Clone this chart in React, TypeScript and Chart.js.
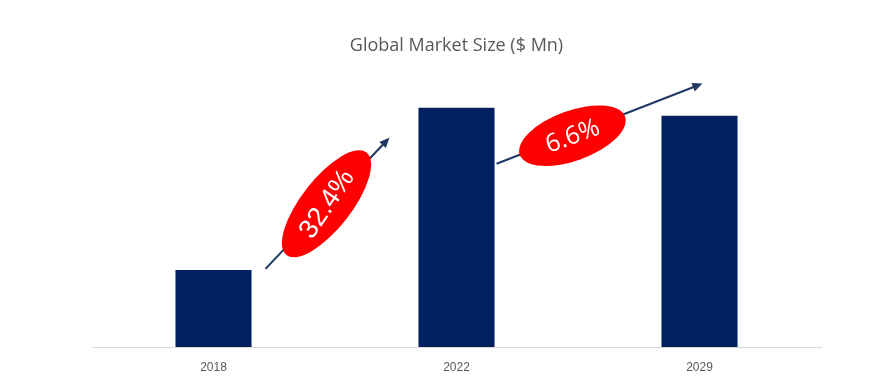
import React, { useEffect, useRef } from "react";
import { Chart, registerables } from "chart.js";

Chart.register(...registerables);

const categories = ["2018", "2022", "2029"];
const marketSize = [77, 239, 231];

// growth annotations (category index, value)
const growthLabels = ["32.4%", "6.6%"];
const arrowStartX = [0.214, 1.165];
const arrowStartY = [78, 183];
const arrowEndX = [0.724, 2.012];
const arrowEndY = [209, 263];
const badgeX = [0.465, 1.477];
const badgeY = [143, 211];

const BAR_COLOR = "#002060";
const ARROW_COLOR = "#1f3864";

const badgeStyles = [
  { rx: 65, ry: 25, rot: -52, textRot: -56, font: "27px 'Liberation Sans Narrow', 'Liberation Sans', sans-serif" },
  { rx: 56, ry: 25, rot: -20, textRot: -20, font: "25px 'Open Sans', sans-serif" },
];

const growthPlugin = {
  id: "growth",
  afterDatasetsDraw(chart: any) {
    const { ctx, scales } = chart;
    const x = scales.x;
    const y = scales.y;
    ctx.save();
    for (let i = 0; i < growthLabels.length; i++) {
      const x1 = x.getPixelForValue(arrowStartX[i]);
      const y1 = y.getPixelForValue(arrowStartY[i]);
      const x2 = x.getPixelForValue(arrowEndX[i]);
      const y2 = y.getPixelForValue(arrowEndY[i]);
      const ang = Math.atan2(y2 - y1, x2 - x1);
      const head = 10;
      ctx.strokeStyle = ARROW_COLOR;
      ctx.fillStyle = ARROW_COLOR;
      ctx.lineWidth = 2;
      ctx.beginPath();
      ctx.moveTo(x1, y1);
      ctx.lineTo(x2 - Math.cos(ang) * head * 0.8, y2 - Math.sin(ang) * head * 0.8);
      ctx.stroke();
      ctx.beginPath();
      ctx.moveTo(x2, y2);
      ctx.lineTo(x2 - head * Math.cos(ang) + 4.5 * Math.sin(ang), y2 - head * Math.sin(ang) - 4.5 * Math.cos(ang));
      ctx.lineTo(x2 - head * Math.cos(ang) - 4.5 * Math.sin(ang), y2 - head * Math.sin(ang) + 4.5 * Math.cos(ang));
      ctx.closePath();
      ctx.fill();

      const st = badgeStyles[i];
      const cx = x.getPixelForValue(badgeX[i]);
      const cy = y.getPixelForValue(badgeY[i]);
      ctx.fillStyle = "#ff0000";
      ctx.beginPath();
      ctx.ellipse(cx, cy, st.rx, st.ry, (st.rot * Math.PI) / 180, 0, Math.PI * 2);
      ctx.fill();
      ctx.save();
      ctx.translate(cx, cy);
      ctx.rotate((st.textRot * Math.PI) / 180);
      ctx.fillStyle = "#ffffff";
      ctx.font = st.font;
      ctx.textAlign = "center";
      ctx.textBaseline = "middle";
      ctx.fillText(growthLabels[i], 0, 1);
      ctx.restore();
    }
    ctx.restore();
  },
};

export default function App() {
  const ref = useRef<HTMLCanvasElement>(null);
  useEffect(() => {
    document.body.style.margin = "0";
    if (!ref.current) return;
    const chart = new Chart(ref.current, {
      type: "bar",
      data: {
        labels: categories,
        datasets: [
          {
            label: "Global Market Size ($ Mn)",
            data: marketSize,
            backgroundColor: BAR_COLOR,
            borderWidth: 0,
            barPercentage: 0.313,
            categoryPercentage: 1,
          },
        ],
      },
      options: {
        animation: false,
        responsive: false,
        maintainAspectRatio: false,
        layout: { padding: { left: 92, right: 68, top: 0, bottom: 0 } },
        plugins: {
          legend: { display: false },
          tooltip: { enabled: false },
          title: {
            display: true,
            text: "Global Market Size ($ Mn)",
            color: "#595959",
            font: { family: "'Open Sans', sans-serif", size: 18, weight: "normal" },
            padding: { top: 35, bottom: 10 },
          },
        },
        scales: {
          x: {
            grid: { display: false },
            border: { display: true, color: "#d9d9d9", width: 1 },
            ticks: {
              color: "#595959",
              font: { family: "'Liberation Sans Narrow', 'Liberation Sans', sans-serif", size: 12 },
              padding: 5,
            },
            afterFit: (scale: any) => {
              scale.height = 42;
            },
          },
          y: {
            display: false,
            min: 0,
            max: 280,
          },
        },
      },
      plugins: [growthPlugin],
    });
    return () => chart.destroy();
  }, []);
  return (
    <div style={{ width: 889, height: 389 }}>
      <canvas ref={ref} width={889} height={389} style={{ display: "block" }} />
    </div>
  );
}
